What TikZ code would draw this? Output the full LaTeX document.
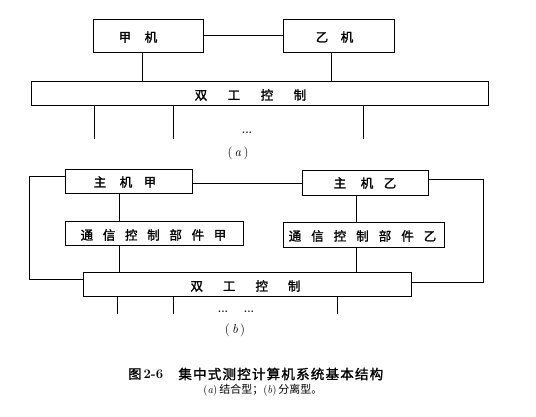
\documentclass[tikz,border=0pt]{standalone}
\usepackage{fontspec}
\newfontfamily\cjk{Noto Sans CJK SC}
\newfontfamily\cjkb[FakeBold=1.5]{Noto Sans CJK SC}
\newfontfamily\cjkt[FakeBold=1.5,LetterSpace=9]{Noto Sans CJK SC}
\newcommand{\myg}[1]{\hspace{#1pt}}
\begin{document}
\begin{tikzpicture}[x=1pt,y=-1pt,line width=0.8pt,
  box/.style={draw,inner sep=0pt},
  lbl/.style={inner sep=0pt,font=\cjkb\fontsize{12.5}{14}\selectfont},
  dotsty/.style={inner sep=0pt,font=\bfseries\fontsize{11}{12}\selectfont},
  sub/.style={inner sep=0pt,font=\fontsize{13}{15}\selectfont}]
\useasboundingbox (0,0) rectangle (536,416);
% ---------- (a) ----------
\node[box,minimum width=110pt,minimum height=33pt] (A) at (148,35.5) {};
\node[box,minimum width=111pt,minimum height=33pt] (B) at (338.5,35.5) {};
\node[box,minimum width=457pt,minimum height=24pt] (D) at (259.5,93.5) {};
\node[lbl] (Al) at (138,37) {甲\myg{13.5}机};
\node[lbl] (Bl) at (334.5,37) {乙\myg{12.5}机};
\node[lbl] (Dl) at (250.5,95) {双\myg{20.5}工\myg{20.5}控\myg{20.5}制};
\draw (A.east) -- (B.west);
\coordinate (xa1) at (142,0);
\coordinate (xa2) at (331,0);
\draw (A.south -| xa1) -- (D.north -| xa1);
\draw (B.south -| xa2) -- (D.north -| xa2);
\coordinate (la1) at (94,139);
\coordinate (la2) at (173,139);
\coordinate (la3) at (363,139);
\draw (la1 |- D.south) -- (la1);
\draw (la2 |- D.south) -- (la2);
\draw (la3 |- D.south) -- (la3);
\node[dotsty] (da) at (247,133) {...};
\node[sub] (capa) at (238,153) {(\,\textit{a}\,)};
% ---------- (b) ----------
\node[box,minimum width=127pt,minimum height=24pt] (P) at (128.5,181) {};
\node[box,minimum width=126pt,minimum height=25pt] (Q) at (365,182.5) {};
\node[box,minimum width=178pt,minimum height=24pt] (R) at (154,233) {};
\node[box,minimum width=161pt,minimum height=25pt] (S) at (363.5,234.5) {};
\node[box,minimum width=328pt,minimum height=24pt] (T) at (247,284.5) {};
\node[lbl] (Pl) at (125,182) {主\myg{13.5}机\myg{11.5}甲};
\node[lbl] (Ql) at (365,183) {主\myg{14.5}机\myg{10.5}乙};
\node[lbl] (Rl) at (153.5,235) {通\myg{9.7}信\myg{9.7}控\myg{9.7}制\myg{9.7}部\myg{9.7}件\myg{9.7}甲};
\node[lbl] (Sl) at (362.5,236) {通\myg{10}信\myg{10}控\myg{10}制\myg{10}部\myg{10}件\myg{10}乙};
\node[lbl] (Tl) at (245.5,286) {双\myg{20}工\myg{20}控\myg{20}制};
\coordinate (pq) at (0,183.5);
\draw (pq -| P.east) -- (pq -| Q.west);
\coordinate (xb1) at (119,0);
\coordinate (xb2) at (356,0);
\draw (P.south -| xb1) -- (R.north -| xb1);
\draw (R.south -| xb1) -- (T.north -| xb1);
\draw (Q.south -| xb2) -- (S.north -| xb2);
\draw (S.south -| xb2) -- (T.north -| xb2);
\coordinate (L1) at (29,176);
\coordinate (L2) at (29,279);
\draw (L1 -| P.west) -- (L1) -- (L2) -- (L2 -| T.west);
\coordinate (R1) at (483,179);
\coordinate (R2) at (483,282);
\draw (R1 -| Q.east) -- (R1) -- (R2) -- (R2 -| T.east);
\coordinate (lb1) at (117,314);
\coordinate (lb2) at (173,314);
\coordinate (lb3) at (337,314);
\draw (lb1 |- T.south) -- (lb1);
\draw (lb2 |- T.south) -- (lb2);
\draw (lb3 |- T.south) -- (lb3);
\node[dotsty] (db1) at (223,312) {...};
\node[dotsty] (db2) at (249,312) {...};
\node[sub] (capb) at (235,330) {(\,\textit{b}\,)};
% ---------- caption ----------
\node[inner sep=0pt,anchor=west,font=\fontsize{13}{15}\selectfont] (fig) at (128,374) {{\cjkb 图}\,\textbf{2-6}};
\node[inner sep=0pt,anchor=west,font=\cjkt\fontsize{13.5}{15}\selectfont] (title) at (178,374) {集中式测控计算机系统基本结构};
\node[inner sep=0pt,anchor=west,font=\fontsize{11}{13}\selectfont] (expl) at (203,390) {(\textit{a})\,{\cjk 结合型；}(\textit{b})\,{\cjk 分离型。}};
\end{tikzpicture}
\end{document}
